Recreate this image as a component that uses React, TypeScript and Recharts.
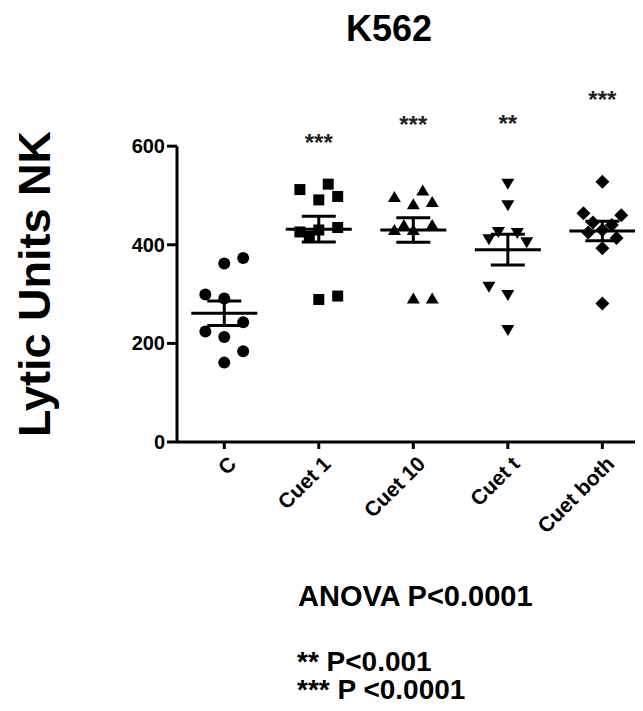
import React from 'react';
import { ScatterChart, Scatter, XAxis, YAxis, ErrorBar, ReferenceLine } from 'recharts';

const FONT = '"Liberation Sans", Arial, Helvetica, sans-serif';

// groups along the x axis
const groups = ['C', 'Cuet 1', 'Cuet 10', 'Cuet t', 'Cuet both'];

// lytic units per donor
const cValues = [362, 373, 299, 291, 243, 224, 213, 184, 161];
const cuet1Values = [512, 523, 491, 498, 435, 426, 417, 430, 289, 296];
const cuet10Values = [497, 510, 482, 487, 430, 440, 440, 430, 291, 291];
const cuetTValues = [524, 480, 426, 424, 411, 405, 315, 298, 227];
const cuetBothValues = [528, 464, 460, 445, 440, 430, 425, 414, 393, 281];

// horizontal scatter of each point (fraction of a category)
const cJitter = [0, 0.2, -0.2, 0, 0.2, -0.2, 0, 0.2, 0];
const cuet1Jitter = [-0.2, 0.1, 0, 0.2, 0.2, -0.2, -0.1, 0, 0, 0.2];
const cuet10Jitter = [-0.2, 0.1, 0, 0.2, -0.2, -0.1, 0.2, 0, 0, 0.2];
const cuetTJitter = [0, 0, -0.1, 0.1, -0.2, 0.2, -0.2, 0, 0];
const cuetBothJitter = [0, -0.2, 0.2, -0.1, 0.1, 0, -0.15, 0.15, 0, 0];

// significance marks vs control, and the height they sit at
const sigLabels = ['', '***', '***', '**', '***'];
const sigHeights = [0, 618, 655, 657, 705];

const yTicks = [0, 200, 400, 600];

const allValues = [cValues, cuet1Values, cuet10Values, cuetTValues, cuetBothValues];
const allJitter = [cJitter, cuet1Jitter, cuet10Jitter, cuetTJitter, cuetBothJitter];

const points = (g: number) =>
  allValues[g].map((v, i) => ({ x: g + allJitter[g][i], y: v }));

const summary = allValues.map((vals, g) => {
  const n = vals.length;
  const mean = vals.reduce((s, v) => s + v, 0) / n;
  const sd = Math.sqrt(vals.reduce((s, v) => s + (v - mean) ** 2, 0) / (n - 1));
  return { x: g, y: mean, sem: sd / Math.sqrt(n) };
});

const sigData = sigLabels
  .map((label, g) => ({ x: g, y: sigHeights[g], label }))
  .filter((d) => d.label);

const Circle = ({ cx, cy }: any) => <circle cx={cx} cy={cy} r={6} fill="#000" />;
const Square = ({ cx, cy }: any) => <rect x={cx - 5.5} y={cy - 5.5} width={11} height={11} fill="#000" />;
const TriUp = ({ cx, cy }: any) => (
  <path d={`M${cx},${cy - 6} L${cx + 6.5},${cy + 5} L${cx - 6.5},${cy + 5} Z`} fill="#000" />
);
const TriDown = ({ cx, cy }: any) => (
  <path d={`M${cx},${cy + 6} L${cx + 6.5},${cy - 5} L${cx - 6.5},${cy - 5} Z`} fill="#000" />
);
const Diamond = ({ cx, cy }: any) => (
  <path d={`M${cx},${cy - 7} L${cx + 7},${cy} L${cx},${cy + 7} L${cx - 7},${cy} Z`} fill="#000" />
);
const shapes = [Circle, Square, TriUp, TriDown, Diamond];

const MeanLine = ({ cx, cy }: any) => (
  <line x1={cx - 33} x2={cx + 33} y1={cy} y2={cy} stroke="#000" strokeWidth={3} />
);

const Stars = ({ cx, cy, payload }: any) => (
  <text x={cx} y={cy + 14} textAnchor="middle" fontFamily={FONT} fontSize={24} fontWeight="bold" fill="#222">
    {payload.label}
  </text>
);

const CategoryTick = ({ x, y, payload }: any) => (
  <g transform={`translate(${x + 8},${y + 9}) rotate(-45)`}>
    <text x={0} y={0} dy="0.35em" textAnchor="end" fontFamily={FONT} fontSize={21} fontWeight="bold" fill="#000">
      {groups[payload.value]}
    </text>
  </g>
);

const App = () => (
  <div style={{ position: 'relative', width: 643, height: 711, margin: -8, background: '#fff', fontFamily: FONT }}>
    <div
      style={{
        position: 'absolute', left: 389, top: 11, transform: 'translateX(-50%)',
        fontSize: 36, fontWeight: 'bold', lineHeight: 1, whiteSpace: 'nowrap',
      }}
    >
      K562
    </div>
    <div
      style={{
        position: 'absolute', left: -165, top: 261, width: 400, height: 46, textAlign: 'center',
        fontSize: 45, fontWeight: 'bold', lineHeight: 1, transform: 'rotate(-90deg)', whiteSpace: 'nowrap',
      }}
    >
      Lytic Units NK
    </div>
    <ScatterChart width={643} height={711} margin={{ top: 87, right: 0, bottom: 0, left: 0 }}>
      <XAxis
        type="number"
        dataKey="x"
        domain={[-0.5, 4.43]}
        ticks={[0, 1, 2, 3, 4]}
        height={269}
        axisLine={{ stroke: '#000', strokeWidth: 3 }}
        tickLine={{ stroke: '#000', strokeWidth: 3 }}
        tickSize={7}
        tick={<CategoryTick />}
        interval={0}
      />
      <YAxis
        type="number"
        dataKey="y"
        domain={[0, 720]}
        ticks={yTicks}
        width={177}
        axisLine={false}
        tickLine={{ stroke: '#000', strokeWidth: 3 }}
        tickSize={10}
        tickMargin={2}
        tick={{ fontSize: 20, fontWeight: 'bold', fill: '#000', fontFamily: FONT }}
      />
      <ReferenceLine
        segment={[{ x: -0.5, y: 0 }, { x: -0.5, y: 600 }]}
        stroke="#000"
        strokeWidth={3}
      />
      {groups.map((g, i) => (
        <Scatter key={g} data={points(i)} shape={shapes[i]} isAnimationActive={false} />
      ))}
      <Scatter data={summary} shape={MeanLine} isAnimationActive={false}>
        <ErrorBar dataKey="sem" direction="y" width={17} stroke="#000" strokeWidth={3} />
      </Scatter>
      <Scatter data={sigData} shape={Stars} isAnimationActive={false} />
    </ScatterChart>
    <div style={{ position: 'absolute', left: 298, top: 582, fontSize: 29, fontWeight: 'bold', lineHeight: 1, whiteSpace: 'nowrap' }}>
      ANOVA P&lt;0.0001
    </div>
    <div style={{ position: 'absolute', left: 297, top: 648, fontSize: 28, fontWeight: 'bold', lineHeight: 1, whiteSpace: 'nowrap' }}>
      ** P&lt;0.001
    </div>
    <div style={{ position: 'absolute', left: 297, top: 676, fontSize: 28, fontWeight: 'bold', lineHeight: 1, whiteSpace: 'nowrap' }}>
      *** P &lt;0.0001
    </div>
  </div>
);

export default App;
